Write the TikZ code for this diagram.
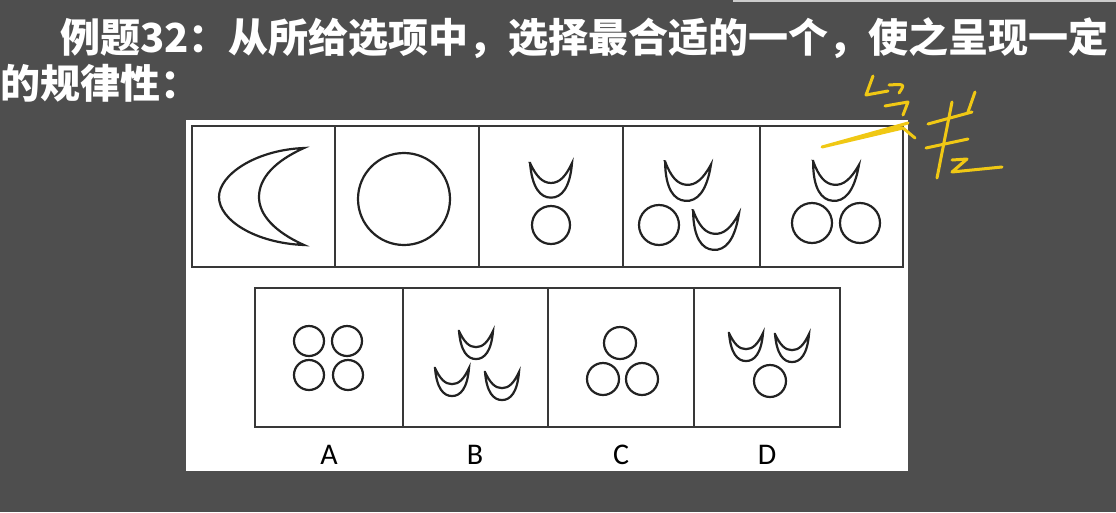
\documentclass[tikz,border=0pt]{standalone}
\usepackage{fontspec}
\newfontfamily\cjk{Noto Sans CJK SC}
\newfontfamily\latinsans{Carlito}
\definecolor{slidebg}{RGB}{78,78,78}
\definecolor{inkline}{RGB}{34,34,34}
\definecolor{penyellow}{RGB}{240,200,20}
\begin{document}
\begin{tikzpicture}[x=1pt, y=-1pt]
        \tikzset{
            frame/.style={draw=inkline!90!white, line width=2.6pt},
            figline/.style={draw=inkline, line width=2.2pt},
            scribble/.style={draw=penyellow, line width=3pt, line cap=round, line join=round},
            titletext/.style={
                text=white,
                inner sep=0pt,
                anchor=base west,
                font=\cjk\bfseries\fontsize{40}{48}\selectfont
            },
            optlabel/.style={
                inner sep=0pt,
                font=\latinsans\fontsize{30}{36}\selectfont
            },
            moon/.pic={
                \draw[figline] (-20,0) .. controls (-18,24) and (-10,33) .. (0,33)
                    .. controls (10,33) and (18,24) .. (20,0)
                    .. controls (14,13) and (8,19) .. (0,19)
                    .. controls (-8,19) and (-14,13) .. cycle;
            }
        }

        \useasboundingbox (0,0) rectangle (1116,512);
        \fill[slidebg] (0,0) rectangle (1116,512);
        \fill[black!20] (733,0) rectangle (1116,2);

        \node[titletext] (line1) at (60,52) {例题32：从所给选项中，选择最合适的一个，使之呈现一定};
        \node[titletext] (line2) at (0,98) {的规律性：};

        \fill[white] (186,120) rectangle (908,471);

        % question row
        \draw[frame] (192,126) rectangle (903,267);
        \foreach \x in {335,479,623,760}
            \draw[frame] (\x,126) -- (\x,267);

        \draw[figline] (304,148) .. controls (255,150) and (219,175) .. (219,197)
            .. controls (219,220) and (255,243) .. (304,245)
            .. controls (275,232) and (259,215) .. (259,197)
            .. controls (259,178) and (275,161) .. cycle;
        \draw[figline] (404,199) circle (46);

        \pic[scale=1.05] at (551,163) {moon};
        \draw[figline] (551,225) circle (19);

        \pic[scale=1.15, rotate=-4] at (688,163) {moon};
        \draw[figline] (659,225) circle (20);
        \pic[scale=1.15, rotate=-4] at (716,212) {moon};

        \pic[scale=1.15, rotate=-5] at (836,163) {moon};
        \draw[figline] (812,223) circle (20);
        \draw[figline] (860,223) circle (20);

        % answer row
        \draw[frame] (255,288) rectangle (840,427);
        \foreach \x in {403,548,694}
            \draw[frame] (\x,288) -- (\x,427);

        \foreach \cx/\cy in {309/341,347/341,309/375,348/375}
            \draw[figline] (\cx,\cy) circle (15);

        \pic[scale=0.85] at (476,331) {moon};
        \pic[scale=0.85] at (452,368) {moon};
        \pic[scale=0.85] at (502,372) {moon};

        \foreach \cx/\cy in {620/343,603/379,642/379}
            \draw[figline] (\cx,\cy) circle (16);

        \pic[scale=0.85] at (746,333) {moon};
        \pic[scale=0.85] at (792,334) {moon};
        \draw[figline] (770,381) circle (16);

        \foreach \n/\x in {A/329,B/475,C/621,D/767}
            \node[optlabel] (opt\n) at (\x,455) {\n};

        % handwriting
        \draw[scribble] (873,76) -- (866,95) -- (888,91);
        \draw[scribble] (889,85) .. controls (905,84) .. (899,93);
        \draw[scribble] (885,106) -- (908,102) -- (903,115);
        \draw[scribble] (908,123) -- (822,147) -- (903,128) -- (915,138);
        \draw[scribble] (952,102) -- (937,178);
        \draw[scribble] (975,92) -- (968,112);
        \draw[scribble] (928,124) -- (972,112);
        \draw[scribble] (926,148) -- (968,139);
        \draw[scribble] (952,160) -- (967,159) -- (952,172) -- (1002,167);
\end{tikzpicture}
\end{document}
